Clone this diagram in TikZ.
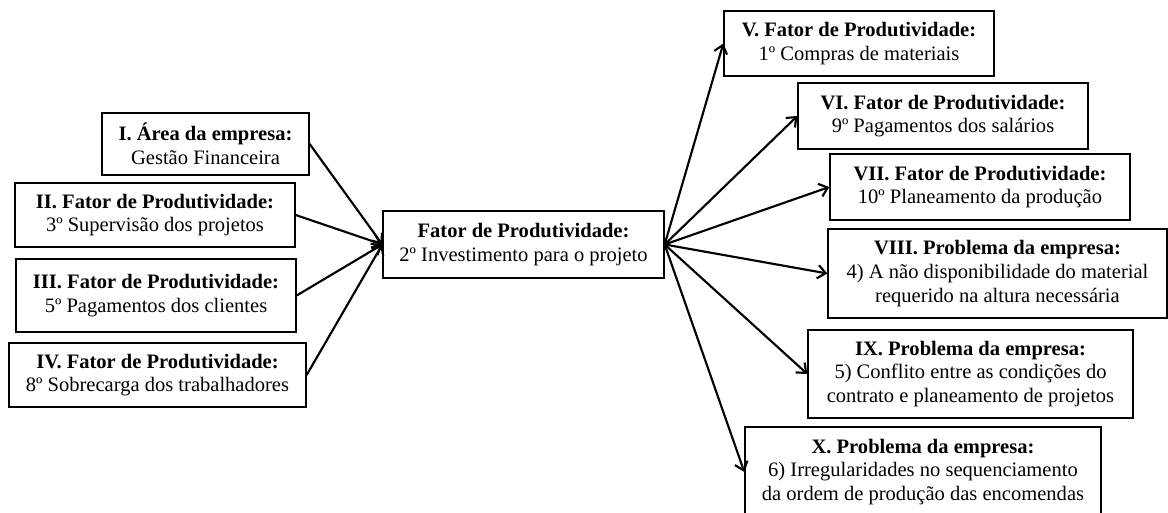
\documentclass[tikz,border=0pt]{standalone}
\usepackage{fontspec}
\setmainfont{Liberation Serif}
\usetikzlibrary{arrows.meta}
\begin{document}
\begin{tikzpicture}[x=0.75pt,y=-0.75pt,
  box/.style={draw, line width=1pt, inner sep=0pt, align=center,
    font=\fontsize{15.4}{17.8}\selectfont},
  sz/.style 2 args={minimum width={#1*0.75pt}, minimum height={#2*0.75pt}},
  link/.style={line width=1.6pt, line cap=round,
    -{Straight Barb[length=6pt,width=10pt]}}]
\clip (0,0) rectangle (1168,513);

% left column: sources
\node[box, sz={207}{62}] (i)   at (205.5,144)   {\textbf{I. Área da empresa:}\\Gestão Financeira};
\node[box, sz={280}{64}] (ii)  at (155,215)     {\textbf{II. Fator de Produtividade:}\\3º Supervisão dos projetos};
\node[box, sz={280}{73}] (iii) at (156,295.5)   {\textbf{III. Fator de Produtividade:}\\5º Pagamentos dos clientes};
\node[box, sz={297}{64}] (iv)  at (157.5,375)   {\textbf{IV. Fator de Produtividade:}\\8º Sobrecarga dos trabalhadores};

% central factor
\node[box, sz={281}{67}] (c)   at (523.5,244.5) {\textbf{Fator de Produtividade:}\\2º Investimento para o projeto};

% right column: effects
\node[box, sz={270}{65}] (v)    at (859,43.5)   {\textbf{V. Fator de Produtividade:}\\1º Compras de materiais};
\node[box, sz={290}{66}] (vi)   at (943,116)    {\textbf{VI. Fator de Produtividade:}\\9º Pagamentos dos salários};
\node[box, sz={300}{66}] (vii)  at (980,187)    {\textbf{VII. Fator de Produtividade:}\\10º Planeamento da produção};
\node[box, sz={339}{89}] (viii) at (997.5,273.5){\textbf{VIII. Problema da empresa:}\\4) A não disponibilidade do material\\requerido na altura necessária};
\node[box, sz={325}{88}] (ix)   at (970.5,374)  {\textbf{IX. Problema da empresa:}\\5) Conflito entre as condições do\\contrato e planeamento de projetos};
\node[box, sz={356}{90}] (x)    at (923,472)    {\textbf{X. Problema da empresa:}\\6) Irregularidades no sequenciamento\\da ordem de produção das encomendas};

% connectors
\foreach \s in {i,ii,iii,iv}
  \draw[link] (\s.east) -- (c.west);
\foreach \t in {v,vi,vii,viii,ix,x}
  \draw[link] (c.east) -- (\t.west);
\end{tikzpicture}
\end{document}
